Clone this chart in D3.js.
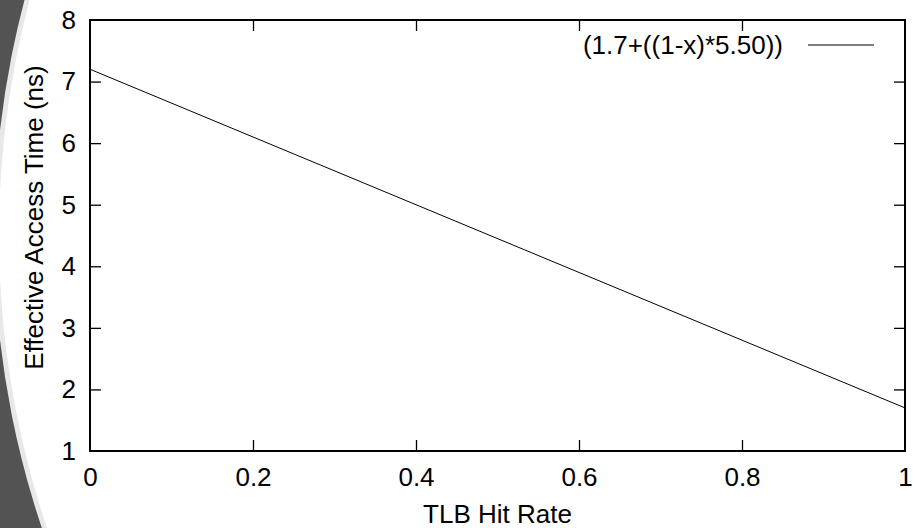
<!DOCTYPE html>
<html>
<head>
<meta charset="utf-8">
<script src="https://cdn.jsdelivr.net/npm/d3@7"></script>
<style>
  body { margin: 0; background: #fff; }
  text { font-family: "Liberation Sans", Arial, Helvetica, sans-serif; fill: #000; }
</style>
</head>
<body>
<div id="chart"></div>
<script>
//Chart data
var hitRate = [0, 1];
var accessTime = [7.2, 1.7];
var xTicks = [0, 0.2, 0.4, 0.6, 0.8, 1];
var yTicks = [1, 2, 3, 4, 5, 6, 7, 8];
var seriesName = "(1.7+((1-x)*5.50))";

var svgWidth = 913;
var svgHeight = 528;
var fontSize = "26px";

var margin = { top: 20, right: 8, bottom: 77, left: 90 };
var chartWidth = svgWidth - margin.left - margin.right;
var chartHeight = svgHeight - margin.top - margin.bottom;

var svg = d3.select("#chart")
    .append("svg")
    .attr("width", svgWidth)
    .attr("height", svgHeight);

//Slide background: dark gray with a big white round shape
svg.append("rect")
    .attr("width", svgWidth)
    .attr("height", svgHeight)
    .attr("fill", "#535353");

svg.append("circle")
    .attr("cx", 915)
    .attr("cy", 235)
    .attr("r", 921)
    .attr("fill", "#e8e8e8");

svg.append("circle")
    .attr("cx", 917)
    .attr("cy", 235)
    .attr("r", 918)
    .attr("fill", "#fff");

var chartGroup = svg.append("g")
    .attr("transform", `translate(${margin.left}, ${margin.top})`);

var xScale = d3.scaleLinear().domain([0, 1]).range([0, chartWidth]);
var yScale = d3.scaleLinear().domain([1, 8]).range([chartHeight, 0]);

var tickLen = 11;

//Axes (ticks pointing inward, mirrored like gnuplot)
var bottomAxis = d3.axisBottom(xScale).tickValues(xTicks).tickSize(-tickLen).tickPadding(17)
    .tickFormat(d => d3.format("")(d));
var topAxis = d3.axisTop(xScale).tickValues(xTicks).tickSize(-tickLen).tickFormat("");
var leftAxis = d3.axisLeft(yScale).tickValues(yTicks).tickSize(-tickLen).tickPadding(14)
    .tickFormat(d3.format("d"));
var rightAxis = d3.axisRight(yScale).tickValues(yTicks).tickSize(-tickLen).tickFormat("");

var xAxis = chartGroup.append("g")
    .attr("transform", `translate(0, ${chartHeight})`)
    .call(bottomAxis);
var xAxisTop = chartGroup.append("g").call(topAxis);
var yAxis = chartGroup.append("g").call(leftAxis);
var yAxisRight = chartGroup.append("g")
    .attr("transform", `translate(${chartWidth}, 0)`)
    .call(rightAxis);

chartGroup.selectAll(".domain").remove();
chartGroup.selectAll(".tick line").attr("stroke", "#000").attr("stroke-width", 1.3);
chartGroup.selectAll(".tick text").attr("font-size", fontSize).attr("fill", "#000");
//skip the corner ticks
xAxisTop.selectAll(".tick").filter(d => d === 0 || d === 1).remove();
yAxisRight.selectAll(".tick").filter(d => d === 1 || d === 8).remove();
xAxis.selectAll(".tick line").filter(d => d === 0 || d === 1).remove();
yAxis.selectAll(".tick line").filter(d => d === 1 || d === 8).remove();

//Frame
chartGroup.append("rect")
    .attr("width", chartWidth)
    .attr("height", chartHeight)
    .attr("fill", "none")
    .attr("stroke", "#000")
    .attr("stroke-width", 2);

//Line
var line = d3.line()
    .x((d, i) => xScale(hitRate[i]))
    .y(d => yScale(d));

chartGroup.append("path")
    .datum(accessTime)
    .attr("d", line)
    .attr("fill", "none")
    .attr("stroke", "#000")
    .attr("stroke-width", 1);

//Legend
chartGroup.append("text")
    .attr("x", 693)
    .attr("y", 25)
    .attr("dy", "0.35em")
    .attr("text-anchor", "end")
    .attr("font-size", fontSize)
    .text(seriesName);

chartGroup.append("line")
    .attr("x1", 718)
    .attr("x2", 784)
    .attr("y1", 25)
    .attr("y2", 25)
    .attr("stroke", "#000")
    .attr("stroke-width", 1);

//Axes labels
chartGroup.append("text")
    .attr("x", chartWidth / 2)
    .attr("y", chartHeight + 72)
    .attr("text-anchor", "middle")
    .attr("font-size", fontSize)
    .text("TLB Hit Rate");

chartGroup.append("text")
    .attr("transform", "rotate(-90)")
    .attr("x", -(chartHeight / 2) + 18)
    .attr("y", -47)
    .attr("text-anchor", "middle")
    .attr("font-size", fontSize)
    .text("Effective Access Time (ns)");
</script>
</body>
</html>
